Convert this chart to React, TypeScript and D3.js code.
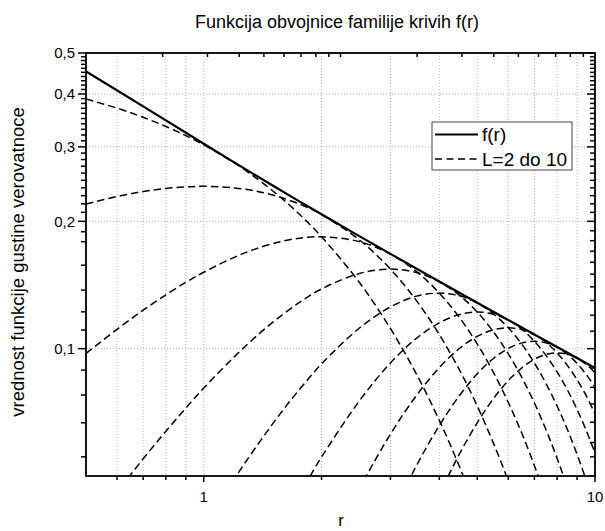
import React from 'react';
import * as d3 from 'd3';

// chart frame (pixels)
const W = 605;
const H = 531;
const X0 = 86;
const X1 = 595;
const Y0 = 53;
const Y1 = 476;

const rSteps = [0.5, 0.6, 0.7, 0.8, 0.9, 1, 1.2, 1.4, 1.6, 1.8, 2, 2.5, 3, 3.5, 4, 4.5, 5, 5.5, 6, 6.5, 7, 7.5, 8, 8.5, 9, 9.5, 10];

// dashed family, L = 2 ... 10 (null = below the plot)
const L2 = [0.3894, 0.3704, 0.3523, 0.3352, 0.3188, 0.3033, 0.2744, 0.2483, 0.2247, 0.2033, 0.1839, 0.1433, 0.1116, 0.0869, 0.0677, 0.0527, 0.041, 0.032, null, null, null, null, null, null, null, null, null];
const L3 = [0.2197, 0.2289, 0.2352, 0.2392, 0.2413, 0.242, 0.2398, 0.2344, 0.2267, 0.2176, 0.2076, 0.1807, 0.1542, 0.1297, 0.108, 0.0892, 0.0732, 0.0598, 0.0487, 0.0395, 0.0319, null, null, null, null, null, null];
const L4 = [0.0974, 0.1111, 0.1233, 0.1341, 0.1435, 0.1516, 0.1646, 0.1738, 0.1797, 0.183, 0.1839, 0.1791, 0.1673, 0.1521, 0.1353, 0.1186, 0.1026, 0.0879, 0.0747, 0.0631, 0.0529, 0.0441, 0.0366, 0.0303, null, null, null];
const L5 = [0.0366, 0.0458, 0.0549, 0.0638, 0.0724, 0.0807, 0.0959, 0.1094, 0.1209, 0.1306, 0.1384, 0.1506, 0.1542, 0.1513, 0.1439, 0.1338, 0.1221, 0.1096, 0.0973, 0.0855, 0.0744, 0.0642, 0.0551, 0.047, 0.0399, 0.0337, 0.0283];
const L6 = [null, null, null, 0.0268, 0.0323, 0.0379, 0.0494, 0.0608, 0.0719, 0.0823, 0.092, 0.1119, 0.1255, 0.1331, 0.1353, 0.1334, 0.1283, 0.1208, 0.1121, 0.1025, 0.0925, 0.0826, 0.0732, 0.0644, 0.0562, 0.0488, 0.0421];
const L7 = [null, null, null, null, null, null, 0.023, 0.0306, 0.0387, 0.047, 0.0554, 0.0753, 0.0925, 0.1059, 0.1151, 0.1204, 0.1221, 0.1206, 0.1168, 0.1112, 0.1041, 0.0963, 0.0881, 0.0799, 0.0718, 0.064, 0.0567];
const L8 = [null, null, null, null, null, null, null, null, null, 0.0247, 0.0307, 0.0466, 0.0628, 0.0776, 0.0902, 0.1001, 0.1069, 0.1108, 0.112, 0.1109, 0.1079, 0.1034, 0.0977, 0.0913, 0.0844, 0.0773, 0.0702];
const L9 = [null, null, null, null, null, null, null, null, null, null, null, 0.0269, 0.0397, 0.053, 0.0658, 0.0774, 0.0872, 0.0948, 0.1001, 0.1032, 0.1041, 0.1032, 0.1008, 0.097, 0.0923, 0.0869, 0.081];
const L10 = [null, null, null, null, null, null, null, null, null, null, null, null, 0.0235, 0.034, 0.0451, 0.0563, 0.0668, 0.0762, 0.084, 0.0901, 0.0944, 0.0969, 0.0977, 0.097, 0.0949, 0.0918, 0.0877];
const family = [L2, L3, L4, L5, L6, L7, L8, L9, L10];

// envelope f(r)
const envR = [0.5, 0.7, 1, 1.5, 2, 3, 4, 5, 6, 7, 8, 9, 10];
const envF = [0.452, 0.374, 0.305, 0.243, 0.2078, 0.1675, 0.1441, 0.1284, 0.1169, 0.108, 0.1009, 0.095, 0.09];

// axes
const xLabelTicks = [1, 10];
const xMinorTicks = [0.6, 0.7, 0.8, 0.9, 2, 3, 4, 5, 6, 7, 8, 9];
const xGrid = [0.6, 0.7, 0.8, 0.9, 1, 2, 3, 4, 5, 6, 7, 8, 9];
const topTicks = [0.2, 0.3, 0.4, 0.5, 0.6, 0.7, 0.8, 0.9, 1, 2, 3, 4, 5, 6, 7, 8, 9];
const yLabelTicks = [0.1, 0.2, 0.3, 0.4, 0.5];
const yGrid = [0.1, 0.2, 0.3, 0.4];
const yMinorLeft = [0.0555, 0.0668, 0.0777, 0.089, 0.1107, 0.1222, 0.1375, 0.1575, 0.179, 0.189,
  0.21, 0.22, 0.23, 0.24, 0.25, 0.26, 0.27, 0.28, 0.29, 0.31, 0.32, 0.33, 0.34, 0.35, 0.36, 0.37, 0.38, 0.39,
  0.41, 0.42, 0.43, 0.44, 0.45, 0.46, 0.47, 0.48, 0.49];
const yMinorRight = [0.0555, 0.06, 0.067, 0.074, 0.081, 0.09, 0.11, 0.12, 0.13, 0.14, 0.15, 0.16, 0.17, 0.18, 0.19,
  0.21, 0.22, 0.23, 0.24, 0.25, 0.26, 0.27, 0.28, 0.29, 0.31, 0.32, 0.33, 0.34, 0.35, 0.36, 0.37, 0.38, 0.39,
  0.41, 0.42, 0.43, 0.44, 0.45, 0.46, 0.47, 0.48, 0.49];

const title = 'Funkcija obvojnice familije krivih f(r)';
const xTitle = 'r';
const yTitle = 'vrednost funkcije gustine verovatnoce';
const legendItems = ['f(r)', 'L=2 do 10'];

const FONT = 'Liberation Sans, Arial, sans-serif';

const App = () => {
  const x = d3.scaleLog().domain([0.5, 10]).range([X0, X1]);
  const xTop = d3.scaleLog().domain([0.1, 10]).range([X0, X1]);
  const y = d3.scaleLog().domain([0.05, 0.5]).range([Y1, Y0]);

  const line = d3.line<[number, number | null]>()
    .defined(d => d[1] != null)
    .x(d => x(d[0]))
    .y(d => y(d[1] as number))
    .curve(d3.curveCatmullRom);

  const envLine = d3.line<number>()
    .x((d, i) => x(envR[i]))
    .y(d => y(d))
    .curve(d3.curveCatmullRom);

  const fmt = (v: number) => String(v).replace('.', ',');

  const legX = 432, legY = 122;

  return (
    <svg width={W} height={H} style={{ position: 'absolute', left: 0, top: 0, background: '#fff' }} fontFamily={FONT}>
      <defs>
        <clipPath id="plot-clip">
          <rect x={X0} y={Y0} width={X1 - X0} height={Y1 - Y0} />
        </clipPath>
      </defs>

      {/* grid */}
      <g stroke="#b4b4b4" strokeWidth={1} strokeDasharray="1,2">
        {xGrid.map(v => (
          <line key={'gx' + v} x1={x(v)} x2={x(v)} y1={Y0} y2={Y1} />
        ))}
        {yGrid.map(v => (
          <line key={'gy' + v} x1={X0} x2={X1} y1={y(v)} y2={y(v)} />
        ))}
      </g>

      {/* curves */}
      <g clipPath="url(#plot-clip)" fill="none" stroke="#000">
        {family.map((vals, i) => (
          <path key={'L' + i}
            d={line(rSteps.map((r, j) => [r, vals[j]] as [number, number | null])) || ''}
            strokeWidth={1.5} strokeDasharray="7.5,4" />
        ))}
        <path d={envLine(envF) || ''} strokeWidth={2.2} />
      </g>

      {/* frame */}
      <rect x={X0} y={Y0} width={X1 - X0} height={Y1 - Y0} fill="none" stroke="#000" strokeWidth={1.8} />

      {/* bottom axis: ticks outward */}
      <g stroke="#000" strokeWidth={1.5}>
        {xMinorTicks.map(v => (
          <line key={'bx' + v} x1={x(v)} x2={x(v)} y1={Y1} y2={Y1 + 4} />
        ))}
        {xLabelTicks.map(v => (
          <line key={'bX' + v} x1={x(v)} x2={x(v)} y1={Y1} y2={Y1 + 6} />
        ))}
        {/* top axis: ticks inward */}
        {topTicks.map(v => (
          <line key={'tx' + v} x1={xTop(v)} x2={xTop(v)} y1={Y0} y2={Y0 + 4} />
        ))}
        {/* left axis: ticks outward */}
        {yMinorLeft.map(v => (
          <line key={'ly' + v} x1={X0 - 5} x2={X0} y1={y(v)} y2={y(v)} />
        ))}
        {yLabelTicks.map(v => (
          <line key={'lY' + v} x1={X0 - 8} x2={X0} y1={y(v)} y2={y(v)} />
        ))}
        {/* right axis: ticks inward */}
        {yMinorRight.map(v => (
          <line key={'ry' + v} x1={X1 - 5} x2={X1} y1={y(v)} y2={y(v)} />
        ))}
        {yLabelTicks.map(v => (
          <line key={'rY' + v} x1={X1 - 8} x2={X1} y1={y(v)} y2={y(v)} />
        ))}
      </g>

      {/* tick labels */}
      <g fontSize={15} fill="#000">
        {xLabelTicks.map(v => (
          <text key={'xl' + v} x={x(v)} y={502} textAnchor="middle">{v}</text>
        ))}
        {yLabelTicks.map(v => (
          <text key={'yl' + v} x={X0 - 11} y={y(v)} dy="0.35em" textAnchor="end">{fmt(v)}</text>
        ))}
      </g>

      {/* titles */}
      <text x={337} y={28} textAnchor="middle" fontSize={18}>{title}</text>
      <text x={341} y={526} textAnchor="middle" fontSize={17}>{xTitle}</text>
      <text transform="translate(24,262) rotate(-90)" textAnchor="middle" fontSize={18.5}>{yTitle}</text>

      {/* legend */}
      <g>
        <rect x={legX} y={legY} width={140} height={48} fill="#fff" stroke="#444" strokeWidth={1} />
        <line x1={legX + 3} x2={legX + 46} y1={legY + 12.5} y2={legY + 12.5} stroke="#000" strokeWidth={2.2} />
        <line x1={legX + 3} x2={legX + 46} y1={legY + 37} y2={legY + 37} stroke="#000" strokeWidth={1.5} strokeDasharray="7,4.5" />
        <text x={legX + 50} y={legY + 12.5} dy="0.35em" fontSize={19}>{legendItems[0]}</text>
        <text x={legX + 50} y={legY + 37} dy="0.35em" fontSize={19}>{legendItems[1]}</text>
      </g>
    </svg>
  );
};

export default App;
